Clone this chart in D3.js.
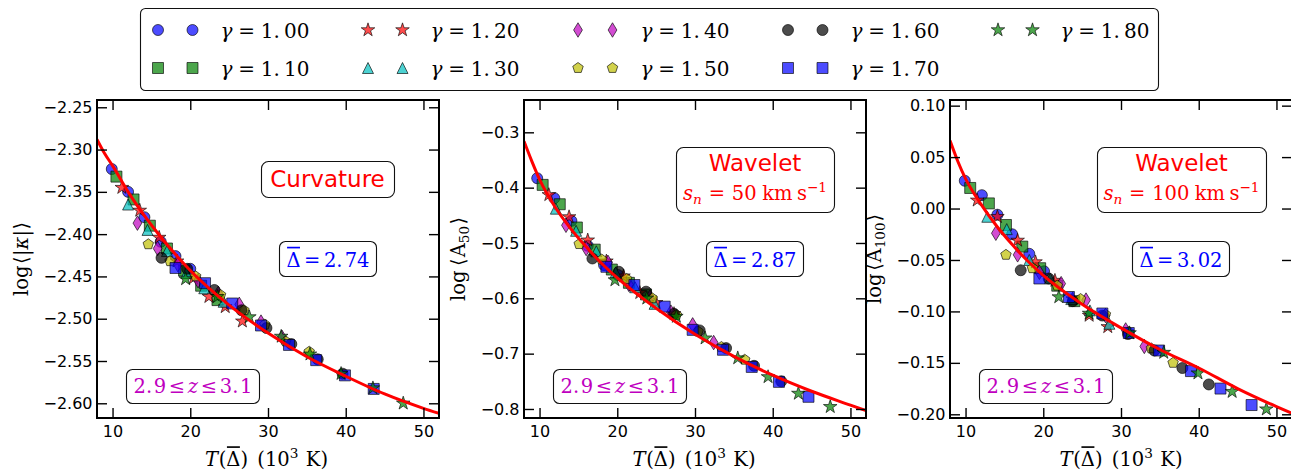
<!DOCTYPE html>
<html><head><meta charset="utf-8">
<script src="https://cdn.jsdelivr.net/npm/d3@7"></script>
<style>body{margin:0;background:#fff}svg{display:block}</style>
</head><body>
<svg id="c" width="1291" height="470"></svg>
<script>
// ---------------- data ----------------
const gammaLabels = ["1.00","1.10","1.20","1.30","1.40","1.50","1.60","1.70","1.80"];
const markerShapes = ["circle","square","star","triangle","thinDiamond","pentagon","circle","square","star"];
const markerColors = ["#0000ff","#008000","#ff0000","#00bfbf","#bf00bf","#bfbf00","#000000","#0000ff","#008000"];

const xTicks = [10,20,30,40,50];
const curvatureTicks = [-2.25,-2.30,-2.35,-2.40,-2.45,-2.50,-2.55,-2.60];
const wavelet50Ticks = [-0.3,-0.4,-0.5,-0.6,-0.7,-0.8];
const wavelet100Ticks = [0.10,0.05,0.00,-0.05,-0.10,-0.15,-0.20];

// curvature panel: T(Delta) (10^3 K) and log<|kappa|>, one row per gamma
const curvatureT = [
  [9.9,12.0,14.1,16.2,18.1,20.0],
  [10.5,12.7,14.8,17.0,19.2,21.4,23.5],
  [11.2,13.5,16.0,18.3,20.4,22.4,24.5,26.7],
  [12.0,14.5,17.0,19.5,21.8,24.3],
  [13.2,15.8,18.4,21.0,23.6,26.3,29.1,31.8],
  [14.6,17.4,20.7,23.9,26.9,29.6,32.3,35.3],
  [16.3,19.6,23.1,26.6,29.8,33.0,36.4,39.6],
  [18.1,21.9,25.4,29.1,32.7,36.2,39.9,43.6],
  [19.4,23.5,27.6,31.7,35.4,39.4,43.5,47.4]
];
const curvatureY = [
  [-2.323,-2.350,-2.380,-2.409,-2.426,-2.441],
  [-2.332,-2.359,-2.390,-2.417,-2.443,-2.461,-2.478],
  [-2.345,-2.372,-2.404,-2.432,-2.452,-2.474,-2.486,-2.503],
  [-2.365,-2.395,-2.420,-2.446,-2.464,-2.480],
  [-2.387,-2.417,-2.436,-2.455,-2.470,-2.483,-2.504,-2.522],
  [-2.412,-2.432,-2.450,-2.472,-2.490,-2.507,-2.527,-2.539],
  [-2.428,-2.441,-2.466,-2.490,-2.511,-2.530,-2.548,-2.565],
  [-2.440,-2.458,-2.482,-2.508,-2.531,-2.549,-2.567,-2.583],
  [-2.453,-2.474,-2.498,-2.521,-2.542,-2.565,-2.582,-2.600]
];
// wavelet s_n = 50 km/s panel
const wavelet50T = [
  [9.7,11.9,14.1,16.2,18.3,20.1],
  [10.4,12.6,14.8,17.1,19.3,21.5,23.7],
  [11.2,13.8,16.2,18.6,20.8,22.9,25.0,27.3],
  [12.1,14.7,17.3,19.8,22.3,24.8],
  [13.4,16.0,18.8,21.5,24.2,26.9,29.7,32.4],
  [15.1,18.0,21.2,24.5,27.6,30.4,33.4,36.4],
  [16.8,20.2,23.7,27.3,30.6,34.0,37.6,41.1],
  [18.6,22.2,26.1,29.7,33.6,37.3,40.8,44.6],
  [19.7,23.8,27.6,31.3,35.5,39.4,43.3,47.4]
];
const wavelet50Y = [
  [-0.383,-0.419,-0.460,-0.505,-0.540,-0.558],
  [-0.395,-0.430,-0.472,-0.512,-0.548,-0.572,-0.593],
  [-0.413,-0.453,-0.495,-0.533,-0.560,-0.590,-0.608,-0.628],
  [-0.438,-0.478,-0.515,-0.553,-0.580,-0.610],
  [-0.468,-0.510,-0.535,-0.575,-0.598,-0.625,-0.648,-0.680],
  [-0.502,-0.530,-0.565,-0.600,-0.630,-0.660,-0.688,-0.711],
  [-0.528,-0.552,-0.588,-0.628,-0.658,-0.690,-0.722,-0.750],
  [-0.543,-0.576,-0.615,-0.657,-0.693,-0.724,-0.751,-0.778],
  [-0.567,-0.600,-0.633,-0.672,-0.708,-0.742,-0.772,-0.796]
];
// wavelet s_n = 100 km/s panel
const wavelet100T = [
  [9.9,12.1,14.1,16.0,18.2,20.1],
  [10.6,13.0,15.2,17.3,19.6,21.8,24.0],
  [11.5,14.1,16.7,19.0,21.5,23.8,25.9,28.3],
  [12.8,15.3,18.2,20.9,23.6,26.0,28.5],
  [13.9,16.7,19.5,22.3,25.5,28.0,30.6,33.0],
  [15.2,18.6,21.8,24.8,28.0,31.0,33.9,36.7],
  [17.1,20.7,23.8,27.6,30.9,34.3,37.9,41.3],
  [19.5,23.3,27.6,31.0,34.9,39.0,42.8,46.8],
  [22.0,25.9,31.1,35.5,39.9,44.3,48.7]
];
const wavelet100Y = [
  [0.027,0.013,-0.006,-0.025,-0.044,-0.061],
  [0.020,0.005,-0.016,-0.037,-0.058,-0.075,-0.090],
  [0.008,-0.008,-0.031,-0.052,-0.070,-0.088,-0.104,-0.115],
  [-0.008,-0.020,-0.050,-0.068,-0.088,-0.099,-0.112],
  [-0.024,-0.045,-0.062,-0.073,-0.089,-0.104,-0.118,-0.134],
  [-0.045,-0.058,-0.075,-0.088,-0.103,-0.120,-0.136,-0.150],
  [-0.060,-0.068,-0.090,-0.104,-0.122,-0.138,-0.155,-0.171],
  [-0.068,-0.086,-0.102,-0.121,-0.138,-0.158,-0.175,-0.191],
  [-0.086,-0.102,-0.121,-0.140,-0.160,-0.178,-0.195]
];
// best-fit curves (red)
const fitT = [8,9,10,12,14,16,18,20,25,30,35,40,45,50,52];
const curvatureFit = [-2.288,-2.305,-2.319,-2.350,-2.377,-2.401,-2.423,-2.443,-2.484,-2.517,-2.545,-2.568,-2.589,-2.606,-2.612];
const wavelet50Fit = [-0.316,-0.352,-0.385,-0.435,-0.474,-0.507,-0.537,-0.563,-0.618,-0.665,-0.705,-0.739,-0.768,-0.793,-0.803];
const wavelet100Fit = [0.066,0.046,0.029,0.004,-0.017,-0.035,-0.051,-0.065,-0.093,-0.116,-0.137,-0.155,-0.175,-0.1925,-0.199];

const deltaValues = ["2.74","2.87","3.02"];
const zRange = ["2.9","3.1"];

// ---------------- helpers ----------------
const SERIF = "'DejaVu Serif','Liberation Serif',serif";
const SANS = "'DejaVu Sans','Liberation Sans',sans-serif";
const svg = d3.select('#c');

function markerPath(shape, s) {
  const h = s / 2;
  const poly = pts => 'M' + pts.map(p => p[0].toFixed(2) + ',' + p[1].toFixed(2)).join('L') + 'Z';
  switch (shape) {
    case 'circle': return `M${h},0A${h},${h} 0 1,1 ${-h},0A${h},${h} 0 1,1 ${h},0Z`;
    case 'square': return `M${-h},${-h}H${h}V${h}H${-h}Z`;
    case 'triangle': return poly([[0,-h],[h,h],[-h,h]]);
    case 'thinDiamond': { const w = 0.40*s, v = 0.66*s; return poly([[0,-v],[w,0],[0,v],[-w,0]]); }
    case 'pentagon': return poly(d3.range(5).map(i => { const a = -Math.PI/2 + i*2*Math.PI/5; return [h*Math.cos(a), h*Math.sin(a)]; }));
    case 'star': {
      const R = h * 1.3, r = R * 0.381966;
      return poly(d3.range(10).map(i => { const a = -Math.PI/2 + i*Math.PI/5, rr = i % 2 ? r : R; return [rr*Math.cos(a), rr*Math.sin(a)]; }));
    }
  }
}
function drawMarker(g, shape, color, x, y, s) {
  g.append('path').attr('d', markerPath(shape, s)).attr('transform', `translate(${x},${y})`)
    .attr('fill', color).attr('fill-opacity', 0.7)
    .attr('stroke', '#000').attr('stroke-opacity', 0.7).attr('stroke-width', 0.9);
}

// lay out a sequence of text segments; optional target width spreads the gaps
function mathText(parent, x, y, segs, opts) {
  const g = parent.append('g');
  const size = opts.size;
  const items = segs.map(s => {
    if (s.gap !== undefined) return {gap: s.gap * size, w: s.gap * size};
    const fs = size * (s.scale || 1);
    const t = g.append('text').attr('y', (s.dy || 0) * size)
      .attr('font-family', s.sans ? SANS : SERIF)
      .attr('font-style', s.it ? 'italic' : 'normal')
      .attr('font-size', fs).attr('fill', opts.fill).text(s.t);
    return {node: t, w: t.node().getComputedTextLength(), over: s.over};
  });
  const natural = d3.sum(items, d => d.w);
  const gapTotal = d3.sum(items, d => d.gap || 0);
  let extra = 0;
  if (opts.width && gapTotal > 0) extra = Math.max(opts.width - natural, -0.8 * gapTotal);
  let cx = 0;
  items.forEach(it => {
    if (it.gap !== undefined) { cx += it.gap + extra * it.gap / gapTotal; return; }
    it.node.attr('x', cx);
    if (it.over) {
      g.append('line').attr('x1', cx + it.w*0.04).attr('x2', cx + it.w*0.96)
        .attr('y1', -size*0.97).attr('y2', -size*0.97)
        .attr('stroke', opts.fill).attr('stroke-width', Math.max(1.5, size*0.085));
    }
    cx += it.w;
  });
  const x0 = opts.anchor === 'middle' ? x - cx/2 : (opts.anchor === 'end' ? x - cx : x);
  g.attr('transform', `translate(${x0},${y})`);
  return g;
}

// ---------------- legend ----------------
const legend = svg.append('g');
legend.append('rect').attr('x', 140.5).attr('y', 8.5).attr('width', 1018).attr('height', 82)
  .attr('rx', 5).attr('fill', '#fff').attr('stroke', '#111').attr('stroke-width', 1.1);
gammaLabels.forEach((lab, i) => {
  const col = Math.floor(i / 2), row = i % 2;
  const mx = 158 + 210 * col, my = row === 0 ? 30 : 68;
  drawMarker(legend, markerShapes[i], markerColors[i], mx, my, 11);
  drawMarker(legend, markerShapes[i], markerColors[i], mx + 34.5, my, 11);
  const parts = lab.split('.');
  mathText(legend, mx + 62.5, my + 7.5, [
    {t:'γ', it:true}, {gap:0.25}, {t:'='}, {gap:0.25}, {t: parts[0] + '.'}, {gap:0.18}, {t: parts[1]}
  ], {size: 20, fill: '#000', width: 89});
});

// ---------------- panels ----------------
const panelTop = 100, panelBottom = 418, panelWidth = 342;
const panels = [
  {left: 97, T: curvatureT, Y: curvatureY, fit: curvatureFit, yDomain: [-2.6174, -2.2414], ticks: curvatureTicks, fmt: '.2f',
   ylabel: [{t:'log'}, {gap:0.2}, {t:'⟨', sans:true}, {gap:0.05}, {t:'|'}, {t:'κ', it:true}, {t:'|'}, {gap:0.05}, {t:'⟩', sans:true}], ylabelX: 28, ylabelW: 74,
   title: 'Curvature', sub: null, titleBox: [164, 61, 297, 97], labelCenter: 266.5},
  {left: 524, T: wavelet50T, Y: wavelet50Y, fit: wavelet50Fit, yDomain: [-0.8163, -0.2416], ticks: wavelet50Ticks, fmt: '.1f',
   ylabel: [{t:'log'}, {gap:0.2}, {t:'⟨', sans:true}, {gap:0.05}, {t:'A'}, {t:'50', scale:0.7, dy:0.2}, {gap:0.05}, {t:'⟩', sans:true}], ylabelX: 465, ylabelW: 84,
   title: 'Wavelet', sub: '50', subW: 144, titleBox: [152, 47, 310, 112], labelCenter: 694},
  {left: 950, T: wavelet100T, Y: wavelet100Y, fit: wavelet100Fit, yDomain: [-0.2036, 0.1055], ticks: wavelet100Ticks, fmt: '.2f',
   ylabel: [{t:'log'}, {gap:0.2}, {t:'⟨', sans:true}, {gap:0.05}, {t:'A'}, {t:'100', scale:0.7, dy:0.2}, {gap:0.05}, {t:'⟩', sans:true}], ylabelX: 881, ylabelW: 90,
   title: 'Wavelet', sub: '100', subW: 156, titleBox: [147, 47, 316, 112], labelCenter: 1121}
];

panels.forEach((p, pi) => {
  const x = d3.scaleLinear().domain([8, 52]).range([p.left, p.left + panelWidth]);
  const y = d3.scaleLinear().domain(p.yDomain).range([panelBottom, panelTop]);
  const g = svg.append('g');

  // data points
  const pts = g.append('g');
  p.T.forEach((row, si) => {
    row.forEach((t, k) => {
      drawMarker(pts, markerShapes[si], markerColors[si], x(t), y(p.Y[si][k]), 11);
    });
  });

  // fit curve
  const line = d3.line().x((d, i) => x(fitT[i])).y(d => y(d)).curve(d3.curveMonotoneX);
  const clipId = 'clip' + pi;
  g.append('clipPath').attr('id', clipId).append('rect')
    .attr('x', p.left).attr('y', panelTop).attr('width', panelWidth).attr('height', panelBottom - panelTop);
  g.append('path').attr('d', line(p.fit)).attr('fill', 'none').attr('stroke', '#ff0000')
    .attr('stroke-width', 3).attr('clip-path', `url(#${clipId})`);

  // axes (inward ticks on all sides)
  const styleAxis = (sel, labels) => {
    sel.select('.domain').remove();
    sel.selectAll('.tick line').attr('stroke', '#000').attr('stroke-width', 1.4);
    sel.selectAll('.tick text').attr('font-family', SANS).attr('font-size', 16).attr('fill', '#000');
    if (!labels) sel.selectAll('.tick text').remove();
  };
  g.append('g').attr('transform', `translate(0,${panelBottom})`)
    .call(d3.axisBottom(x).tickValues(xTicks).tickSize(-10).tickPadding(8).tickFormat(d3.format('d')))
    .call(s => styleAxis(s, true));
  g.append('g').attr('transform', `translate(0,${panelTop})`)
    .call(d3.axisTop(x).tickValues(xTicks).tickSize(-10)).call(s => styleAxis(s, false));
  g.append('g').attr('transform', `translate(${p.left},0)`)
    .call(d3.axisLeft(y).tickValues(p.ticks).tickSize(-10).tickPadding(4.5).tickFormat(d3.format(p.fmt)))
    .call(s => styleAxis(s, true));
  g.append('g').attr('transform', `translate(${p.left + panelWidth},0)`)
    .call(d3.axisRight(y).tickValues(p.ticks).tickSize(-10)).call(s => styleAxis(s, false));

  // frame
  g.append('rect').attr('x', p.left).attr('y', panelTop).attr('width', panelWidth).attr('height', panelBottom - panelTop)
    .attr('fill', 'none').attr('stroke', '#000').attr('stroke-width', 2);

  // title box
  const tb = p.titleBox;
  g.append('rect').attr('x', p.left + tb[0] + 0.5).attr('y', panelTop + tb[1] + 0.5)
    .attr('width', tb[2] - tb[0]).attr('height', tb[3] - tb[1]).attr('rx', 7)
    .attr('fill', '#fff').attr('stroke', '#111').attr('stroke-width', 1.1);
  const tcx = p.left + (tb[0] + tb[2]) / 2;
  if (!p.sub) {
    g.append('text').attr('x', tcx).attr('y', 186.7).attr('text-anchor', 'middle')
      .attr('font-family', SANS).attr('font-size', 23).attr('fill', '#ff0000').text(p.title);
  } else {
    g.append('text').attr('x', tcx).attr('y', 171).attr('text-anchor', 'middle')
      .attr('font-family', SANS).attr('font-size', 23).attr('fill', '#ff0000').text(p.title);
    mathText(g, tcx, 200, [
      {t:'s', it:true}, {t:'n', it:true, scale:0.7, dy:0.22}, {gap:0.25}, {t:'='}, {gap:0.25},
      {t:p.sub}, {gap:0.2}, {t:'km'}, {gap:0.16}, {t:'s'}, {t:'−1', scale:0.7, dy:-0.42}
    ], {size: 19.5, fill: '#ff0000', anchor: 'middle', width: p.subW});
  }

  // Delta box
  g.append('rect').attr('x', p.left + 182.5).attr('y', 241.5).attr('width', 97).attr('height', 35).attr('rx', 6)
    .attr('fill', '#fff').attr('stroke', '#111').attr('stroke-width', 1.1);
  const dv = deltaValues[pi].split('.');
  mathText(g, p.left + 231, 266.5, [
    {t:'Δ', over:true}, {gap:0.2}, {t:'='}, {gap:0.2}, {t: dv[0] + '.'}, {gap:0.12}, {t: dv[1]}
  ], {size: 19.5, fill: '#0000ff', anchor: 'middle', width: 83});

  // redshift box
  g.append('rect').attr('x', p.left + 29.5).attr('y', 369.5).attr('width', 133).attr('height', 34).attr('rx', 6)
    .attr('fill', '#fff').attr('stroke', '#111').attr('stroke-width', 1.1);
  const z0 = zRange[0].split('.'), z1 = zRange[1].split('.');
  mathText(g, p.left + 96, 392.5, [
    {t: z0[0] + '.'}, {gap:0.12}, {t: z0[1]}, {gap:0.2}, {t:'≤'}, {gap:0.2}, {t:'z', it:true}, {gap:0.2}, {t:'≤'}, {gap:0.2},
    {t: z1[0] + '.'}, {gap:0.12}, {t: z1[1]}
  ], {size: 19.5, fill: '#bf00bf', anchor: 'middle', width: 119});

  // axis labels
  mathText(g, p.labelCenter, 466, [
    {t:'T', it:true}, {gap:0.02}, {t:'('}, {t:'Δ', over:true}, {t:')'}, {gap:0.25}, {t:'(10'}, {t:'3', scale:0.7, dy:-0.4}, {gap:0.2}, {t:'K)'}
  ], {size: 19.5, fill: '#000', anchor: 'middle', width: 123});
  const yl = g.append('g').attr('transform', `translate(${p.ylabelX},${(panelTop + panelBottom) / 2}) rotate(-90)`);
  mathText(yl, 0, 0, p.ylabel, {size: 19.5, fill: '#000', anchor: 'middle', width: p.ylabelW});
});
</script>
</body></html>
